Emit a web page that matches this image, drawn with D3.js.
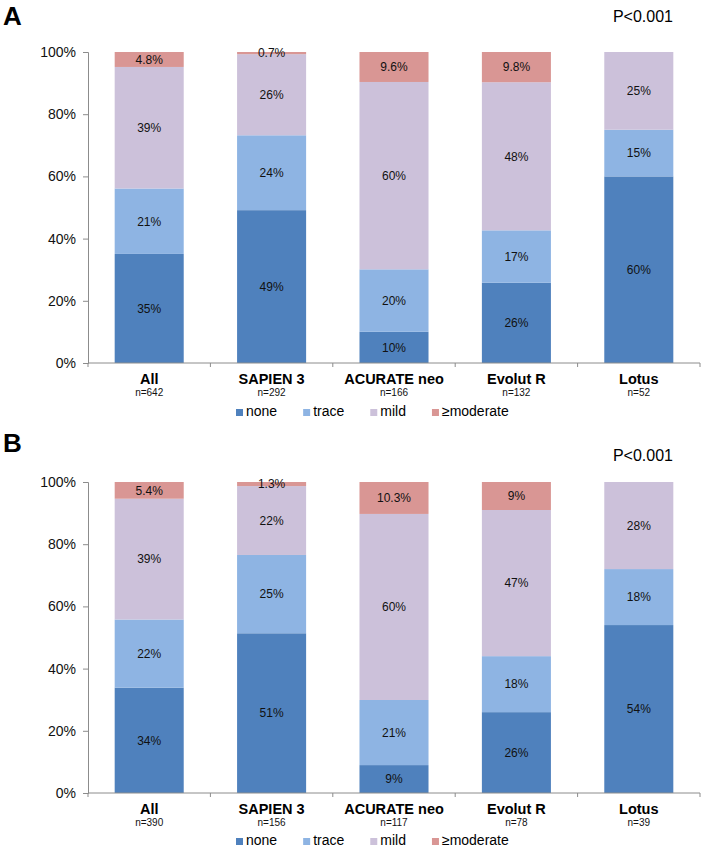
<!DOCTYPE html>
<html>
<head>
<meta charset="utf-8">
<script src="https://cdn.jsdelivr.net/npm/d3@7"></script>
<style>
  html, body { margin: 0; padding: 0; background: #fff; }
  svg { display: block; font-family: Arial, "Liberation Sans", sans-serif; }
</style>
</head>
<body>
<svg id="chart" width="702" height="848"></svg>
<script>
// ---- Data ----
const categories = ["All", "SAPIEN 3", "ACURATE neo", "Evolut R", "Lotus"];
const seriesNames = ["none", "trace", "mild", "≥moderate"];
const seriesColors = ["#4F81BD", "#8EB4E3", "#CCC1DA", "#D99694"];
const yTicks = [0, 0.2, 0.4, 0.6, 0.8, 1.0];

// Panel A
const nA = ["n=642", "n=292", "n=166", "n=132", "n=52"];
const noneA = [35, 49, 10, 26, 60];
const traceA = [21, 24, 20, 17, 15];
const mildA = [39, 26, 60, 48, 25];
const moderateA = [4.8, 0.7, 9.6, 9.8, 0];

// Panel B
const nB = ["n=390", "n=156", "n=117", "n=78", "n=39"];
const noneB = [34, 51, 9, 26, 54];
const traceB = [22, 25, 21, 18, 18];
const mildB = [39, 22, 60, 47, 28];
const moderateB = [5.4, 1.3, 10.3, 9, 0];

const svg = d3.select("#chart");

function drawPanel(opt) {
  const rows = categories.map((c, i) => ({
    cat: c,
    "none": opt.series[0][i],
    "trace": opt.series[1][i],
    "mild": opt.series[2][i],
    "≥moderate": opt.series[3][i]
  }));
  const stacked = d3.stack().keys(seriesNames).offset(d3.stackOffsetExpand)(rows);

  const x = d3.scaleBand().domain(categories).range([88, 700]).paddingInner(0.436).paddingOuter(0.218);
  const xb = d3.scaleBand().domain(categories).range([88, 700]).padding(0);
  const y = d3.scaleLinear().domain([0, 1]).range([opt.y0, opt.y1]);

  const g = svg.append("g");

  // panel letter
  g.append("text").attr("x", 3).attr("y", opt.letterY)
    .attr("font-size", 26).attr("font-weight", "bold").attr("fill", "#000").text(opt.letter);
  // P value
  g.append("text").attr("x", 673).attr("y", opt.pY).attr("text-anchor", "end")
    .attr("font-size", 16).attr("fill", "#000").text("P<0.001");

  // bars
  const layer = g.selectAll("g.layer").data(stacked).join("g")
    .attr("fill", (d, i) => seriesColors[i]);
  layer.selectAll("rect").data(d => d).join("rect")
    .attr("x", d => x(d.data.cat))
    .attr("width", x.bandwidth())
    .attr("y", d => y(d[1]))
    .attr("height", d => Math.max(0, y(d[0]) - y(d[1])));

  // labels
  stacked.forEach((s, si) => {
    s.forEach((d, i) => {
      const v = opt.series[si][i];
      if (!v) return;
      g.append("text")
        .attr("x", x(d.data.cat) + x.bandwidth() / 2)
        .attr("y", (y(d[0]) + y(d[1])) / 2)
        .attr("dy", "0.36em")
        .attr("text-anchor", "middle")
        .attr("font-size", 12)
        .attr("fill", "#111")
        .text(v + "%");
    });
  });

  // y axis
  const yAxis = g.append("g").attr("transform", "translate(88,0)")
    .call(d3.axisLeft(y).tickValues(yTicks).tickFormat(d3.format(".0%")).tickSize(5).tickPadding(7));
  yAxis.select(".domain").attr("stroke", "#8c8c8c");
  yAxis.selectAll(".tick line").attr("stroke", "#8c8c8c");
  yAxis.selectAll(".tick text").attr("font-size", 14).attr("fill", "#111")
    .attr("font-family", "Arial, 'Liberation Sans', sans-serif");

  // x axis line with boundary ticks
  g.append("line").attr("x1", 88).attr("x2", 700).attr("y1", opt.y0).attr("y2", opt.y0)
    .attr("stroke", "#8c8c8c");
  const bounds = categories.map(c => xb(c)).concat([700]);
  g.selectAll("line.bt").data(bounds).join("line")
    .attr("x1", d => d).attr("x2", d => d)
    .attr("y1", opt.y0).attr("y2", opt.y0 + 4)
    .attr("stroke", "#8c8c8c");

  // category labels
  g.selectAll("text.cat").data(categories).join("text")
    .attr("x", d => xb(d) + xb.bandwidth() / 2)
    .attr("y", opt.y0 + 21)
    .attr("text-anchor", "middle")
    .attr("font-size", 14.5).attr("font-weight", "bold").attr("fill", "#000")
    .text(d => d);
  g.selectAll("text.n").data(opt.n).join("text")
    .attr("x", (d, i) => xb(categories[i]) + xb.bandwidth() / 2)
    .attr("y", opt.y0 + 33)
    .attr("text-anchor", "middle")
    .attr("font-size", 10).attr("fill", "#111")
    .text(d => d);

  // legend
  let lx = 236;
  seriesNames.forEach((name, i) => {
    g.append("rect").attr("x", lx).attr("y", opt.legY - 7).attr("width", 7).attr("height", 7)
      .attr("fill", seriesColors[i]);
    const t = g.append("text").attr("x", lx + 10).attr("y", opt.legY)
      .attr("font-size", 14).attr("fill", "#000").text(name);
    lx += 10 + t.node().getComputedTextLength() + 26;
  });
}

drawPanel({
  letter: "A", letterY: 25, pY: 22, y0: 363, y1: 52, legY: 416,
  n: nA, series: [noneA, traceA, mildA, moderateA]
});
drawPanel({
  letter: "B", letterY: 452, pY: 461, y0: 793, y1: 482, legY: 845,
  n: nB, series: [noneB, traceB, mildB, moderateB]
});
</script>
</body>
</html>
